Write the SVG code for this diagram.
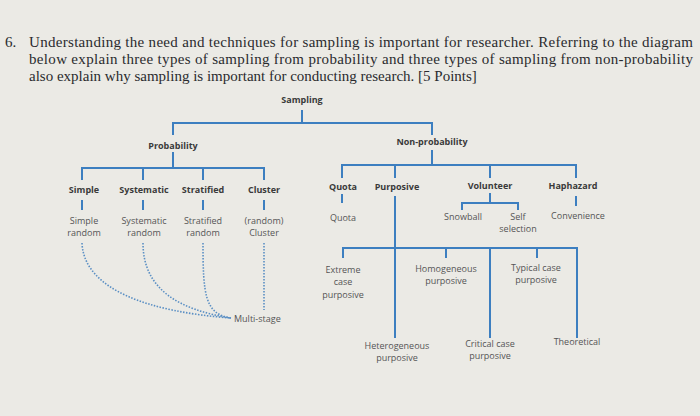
<svg xmlns="http://www.w3.org/2000/svg" width="700" height="416" viewBox="0 0 700 416">
<style>
.q{font-family:"Liberation Serif",serif;font-size:15px;fill:#2a2a2e}
.b{font-family:"Open Sans","DejaVu Sans",sans-serif;font-size:9px;font-weight:bold;fill:#3a3a3a;text-anchor:middle}
.n{font-family:"Open Sans","DejaVu Sans",sans-serif;font-size:9px;fill:#555;text-anchor:middle}
.l{stroke:#3d7fc0;stroke-width:2;fill:none}
.d{stroke:#5a8fc4;stroke-width:1.6;fill:none;stroke-dasharray:1.5 1.5}
</style>
<rect width="700" height="416" fill="#ebeae5"/>
<g id="question">
<text class="q" x="5" y="47">6.</text>
<text class="q" x="29" y="47" textLength="664">Understanding the need and techniques for sampling is important for researcher. Referring to the diagram</text>
<text class="q" x="29" y="64" textLength="664">below explain three types of sampling from probability and three types of sampling from non-probability</text>
<text class="q" x="29" y="81">also explain why sampling is important for conducting research. [5 Points]</text>
</g>
<g id="connectors">
<path class="l" d="M302 110V123M173 135V123H432V135"/>
<path class="l" d="M173 152V168M82 180V168H264V180M143 168V180M203 168V180"/>
<path class="l" d="M82 200V210M143 200V210M203 200V210M264 200V210"/>
<path class="l" d="M432 150V165M342 178V165H576V178M395 165V178M395 196V338M490 165V178"/>
<path class="l" d="M342 194V203M490 193V203M462 210V203H518V210M576 196V206"/>
<path class="l" d="M343 258V248H577V338M446 248V258M490 248V338M537 248V258"/>
<path class="d" d="M82 243C84 290 150 312 231 318"/>
<path class="d" d="M143 243C143 290 180 310 231 318"/>
<path class="d" d="M203 243C203 295 205 314 231 318"/>
<path class="d" d="M264 243V310"/>
</g>
<g id="sampling"><text class="b" x="302" y="103">Sampling</text></g>
<g id="probability"><text class="b" x="173" y="149">Probability</text></g>
<g id="nonprob"><text class="b" x="432" y="145">Non-probability</text></g>
<g id="simple"><text class="b" x="84" y="193">Simple</text><text class="n" x="84" y="224">Simple</text><text class="n" x="84" y="236">random</text></g>
<g id="systematic"><text class="b" x="144" y="193">Systematic</text><text class="n" x="144" y="224">Systematic</text><text class="n" x="144" y="236">random</text></g>
<g id="stratified"><text class="b" x="203" y="193">Stratified</text><text class="n" x="203" y="224">Stratified</text><text class="n" x="203" y="236">random</text></g>
<g id="cluster"><text class="b" x="264" y="193">Cluster</text><text class="n" x="264" y="224">(random)</text><text class="n" x="264" y="236">Cluster</text></g>
<g id="multistage"><text class="n" x="234" y="322" style="text-anchor:start">Multi-stage</text></g>
<g id="quota"><text class="b" x="343" y="190">Quota</text><text class="n" x="343" y="221">Quota</text></g>
<g id="purposive"><text class="b" x="397" y="190">Purposive</text></g>
<g id="volunteer"><text class="b" x="490" y="189">Volunteer</text></g>
<g id="haphazard"><text class="b" x="573" y="189">Haphazard</text></g>
<g id="snowball"><text class="n" x="463" y="220">Snowball</text></g>
<g id="self"><text class="n" x="518" y="220">Self</text><text class="n" x="518" y="232">selection</text></g>
<g id="convenience"><text class="n" x="578" y="219">Convenience</text></g>
<g id="extreme"><text class="n" x="343" y="273">Extreme</text><text class="n" x="343" y="285">case</text><text class="n" x="343" y="298">purposive</text></g>
<g id="homogeneous"><text class="n" x="446" y="272">Homogeneous</text><text class="n" x="446" y="284">purposive</text></g>
<g id="typical"><text class="n" x="536" y="271">Typical case</text><text class="n" x="536" y="283">purposive</text></g>
<g id="heterogeneous"><text class="n" x="397" y="349">Heterogeneous</text><text class="n" x="397" y="361">purposive</text></g>
<g id="critical"><text class="n" x="490" y="347">Critical case</text><text class="n" x="490" y="359">purposive</text></g>
<g id="theoretical"><text class="n" x="577" y="345">Theoretical</text></g>
</svg>
